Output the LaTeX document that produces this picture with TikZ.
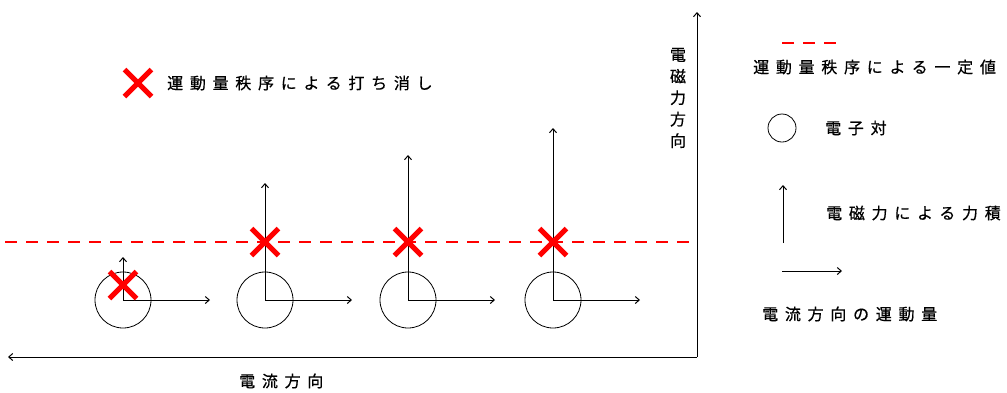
\documentclass[tikz,border=0pt]{standalone}
\usepackage{fontspec}
\newfontfamily\jp[LetterSpace=42,FakeBold=0.6]{Noto Sans CJK JP}
\usetikzlibrary{arrows.meta,shapes.misc}
\begin{document}
\begin{tikzpicture}[x=1pt,y=-1pt,
  pair/.style={circle, draw, minimum size=56pt, inner sep=0pt, line width=0.8pt},
  vec/.style={-{Straight Barb[length=4pt,width=7pt]}, line width=1pt},
  cancel/.style={cross out, draw=red, line width=5pt, minimum size=22pt, inner sep=0pt},
  lbl/.style={font=\jp\fontsize{16pt}{22pt}\selectfont, inner sep=0pt, anchor=west},
  reddash/.style={draw=red, line width=1.2pt, dash pattern=on 12pt off 9pt}]
\useasboundingbox (0,0) rectangle (1007,392);
% axes
\coordinate (O) at (697,357);
\coordinate (xend) at (8,357);
\coordinate (yend) at (697,12);
\draw[vec] (O) -- (xend);
\draw[vec] (O) -- (yend);
\node[lbl] (xlab) at (239,381) {電流方向};
\node[font=\jp\fontsize{16pt}{21.5pt}\selectfont, inner sep=0pt, align=center] (ylab) at (678,98) {電\\磁\\力\\方\\向};
% constant line
\coordinate (dl) at (5,242);
\coordinate (dr) at (693,242);
\draw[reddash] (dl) -- (dr);
% electron pairs
\foreach \i/\x/\h in {1/123/43, 2/265/117, 3/408/145, 4/553/172}{
  \node[pair] (c\i) at (\x,300) {};
  \coordinate (h\i) at (\x+87,300);
  \coordinate (v\i) at (\x,300-\h);
  \draw[vec] (c\i.center) -- (h\i);
  \draw[vec] (c\i.center) -- (v\i);
}
\node[cancel] (x1) at (123,285) {};
\node[cancel] (x2) at (265,242) {};
\node[cancel] (x3) at (408,242) {};
\node[cancel] (x4) at (553,242) {};
% top-left legend
\node[cancel] (xl) at (138,83) {};
\node[lbl] (xltxt) at (167,83) {運動量秩序による打ち消し};
% right legend
\coordinate (ld1) at (782,43);
\coordinate (ld2) at (840,43);
\draw[reddash] (ld1) -- (ld2);
\node[lbl] (ldtxt) at (753,67) {運動量秩序による一定値};
\node[circle, draw, minimum size=28pt, inner sep=0pt, line width=0.8pt] (lc) at (782,128) {};
\node[lbl] (lctxt) at (825,128) {電子対};
\coordinate (lu1) at (783,243);
\coordinate (lu2) at (783,185);
\draw[vec] (lu1) -- (lu2);
\node[lbl] (lutxt) at (826,213) {電磁力による力積};
\coordinate (lr1) at (782,271);
\coordinate (lr2) at (842,271);
\draw[vec] (lr1) -- (lr2);
\node[lbl] (lrtxt) at (762,314) {電流方向の運動量};
\end{tikzpicture}
\end{document}
